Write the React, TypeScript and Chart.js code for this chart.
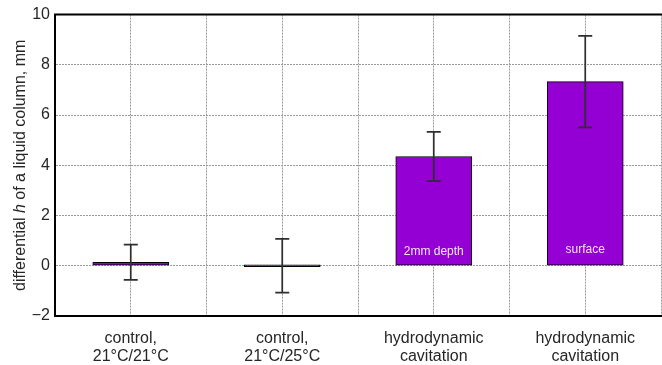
import React, { useEffect, useRef } from "react";
import { Chart, registerables } from "chart.js";
Chart.register(...registerables);

const categoryLines: string[][] = [
  ["control,", "21°C/21°C"],
  ["control,", "21°C/25°C"],
  ["hydrodynamic", "cavitation"],
  ["hydrodynamic", "cavitation"],
];
const positions = [1, 2, 3, 4];
const values = [0.14, 0.0, 4.35, 7.33];
const errors = [0.7, 1.07, 0.98, 1.82];
const innerLabels = ["", "", "2mm depth", "surface"];
const yTicks = [-2, 0, 2, 4, 6, 8, 10];

const FONT = "'Liberation Sans', Arial, sans-serif";

const extrasPlugin = {
  id: "extras",
  afterDatasetsDraw(chart: any) {
    const { ctx, chartArea, scales } = chart;
    const xs = scales.x;
    const ys = scales.y;
    ctx.save();
    // inner labels
    ctx.fillStyle = "#f2e6f7";
    ctx.font = `12px ${FONT}`;
    ctx.textAlign = "center";
    ctx.textBaseline = "middle";
    positions.forEach((p, i) => {
      if (!innerLabels[i]) return;
      const x = xs.getPixelForValue(p);
      const y = ys.getPixelForValue(0) - (i === 3 ? 16 : 14);
      ctx.fillText(innerLabels[i], x, y);
    });
    // error bars
    ctx.strokeStyle = "#2e2e2e";
    ctx.lineWidth = 1.7;
    positions.forEach((p, i) => {
      const x = xs.getPixelForValue(p);
      const yt = ys.getPixelForValue(values[i] + errors[i]);
      const yb = ys.getPixelForValue(values[i] - errors[i]);
      ctx.beginPath();
      ctx.moveTo(x, yt);
      ctx.lineTo(x, yb);
      ctx.moveTo(x - 7, yt);
      ctx.lineTo(x + 7, yt);
      ctx.moveTo(x - 7, yb);
      ctx.lineTo(x + 7, yb);
      ctx.stroke();
    });
    // top frame line
    ctx.strokeStyle = "#000";
    ctx.lineWidth = 2;
    ctx.beginPath();
    ctx.moveTo(chartArea.left - 1, chartArea.top);
    ctx.lineTo(chartArea.right + 2, chartArea.top);
    ctx.stroke();
    // y-axis title with italic h
    const cx = 21;
    const cy = (chartArea.top + chartArea.bottom) / 2;
    const parts: [string, string][] = [
      ["differential ", `16px ${FONT}`],
      ["h", `italic 16px ${FONT}`],
      [" of a liquid column, mm", `16px ${FONT}`],
    ];
    let total = 0;
    parts.forEach(([t, f]) => {
      ctx.font = f;
      total += ctx.measureText(t).width;
    });
    ctx.translate(cx, cy);
    ctx.rotate(-Math.PI / 2);
    ctx.fillStyle = "#262626";
    ctx.textAlign = "left";
    ctx.textBaseline = "middle";
    let x0 = -total / 2;
    parts.forEach(([t, f]) => {
      ctx.font = f;
      ctx.fillText(t, x0, 0);
      x0 += ctx.measureText(t).width;
    });
    ctx.restore();
  },
};

export default function App() {
  const ref = useRef<HTMLCanvasElement>(null);
  useEffect(() => {
    if (!ref.current) return;
    const chart = new Chart(ref.current, {
      type: "bar",
      data: {
        datasets: [
          {
            data: positions.map((p, i) => ({ x: p, y: values[i] })),
            backgroundColor: "#9400d3",
            borderColor: "#000",
            borderWidth: 1,
            borderSkipped: false,
            minBarLength: 2,
            barThickness: 76,
          } as any,
        ],
      },
      options: {
        responsive: false,
        animation: false,
        layout: { padding: { top: 14, left: 0, right: 0, bottom: 0 } },
        plugins: { legend: { display: false }, tooltip: { enabled: false } },
        scales: {
          x: {
            type: "linear",
            min: 0.5,
            max: 4.5,
            offset: false,
            afterFit: (s: any) => {
              s.height = 49;
            },
            afterBuildTicks: (s: any) => {
              const t = [];
              for (let v = 0.5; v <= 4.5001; v += 0.5) t.push({ value: v });
              s.ticks = t;
            },
            ticks: {
              autoSkip: false,
              maxRotation: 0,
              minRotation: 0,
              padding: 14,
              color: "#262626",
              font: { family: FONT, size: 16, lineHeight: 1.125 },
              callback: (v: any) => {
                const idx = positions.indexOf(Number(v));
                return idx >= 0 ? categoryLines[idx] : "";
              },
            },
            grid: {
              offset: false,
              color: "#9a9a9a",
              lineWidth: 1,
              drawTicks: false,
              tickLength: 0,
            },
            border: { display: true, color: "#000", width: 2, dash: [2, 1] },
          } as any,
          y: {
            min: -2,
            max: 10,
            afterFit: (s: any) => {
              s.width = 55;
            },
            afterBuildTicks: (s: any) => {
              s.ticks = yTicks.map((v) => ({ value: v }));
            },
            ticks: {
              padding: 5,
              color: "#262626",
              font: { family: FONT, size: 16 },
              callback: (v: any) => (Number(v) < 0 ? "\u2212" + Math.abs(Number(v)) : String(v)),
            },
            grid: {
              color: "#9a9a9a",
              lineWidth: 1,
              drawTicks: false,
              tickLength: 0,
            },
            border: { display: true, color: "#000", width: 2, dash: [2, 1] },
          } as any,
        },
      },
      plugins: [extrasPlugin],
    });
    return () => chart.destroy();
  }, []);
  return (
    <div
      style={{
        position: "fixed",
        left: 0,
        top: 0,
        width: 662,
        height: 365,
        overflow: "hidden",
        background: "#fff",
      }}
    >
      <canvas ref={ref} width={675} height={365} style={{ width: 675, height: 365, display: "block" }} />
    </div>
  );
}
